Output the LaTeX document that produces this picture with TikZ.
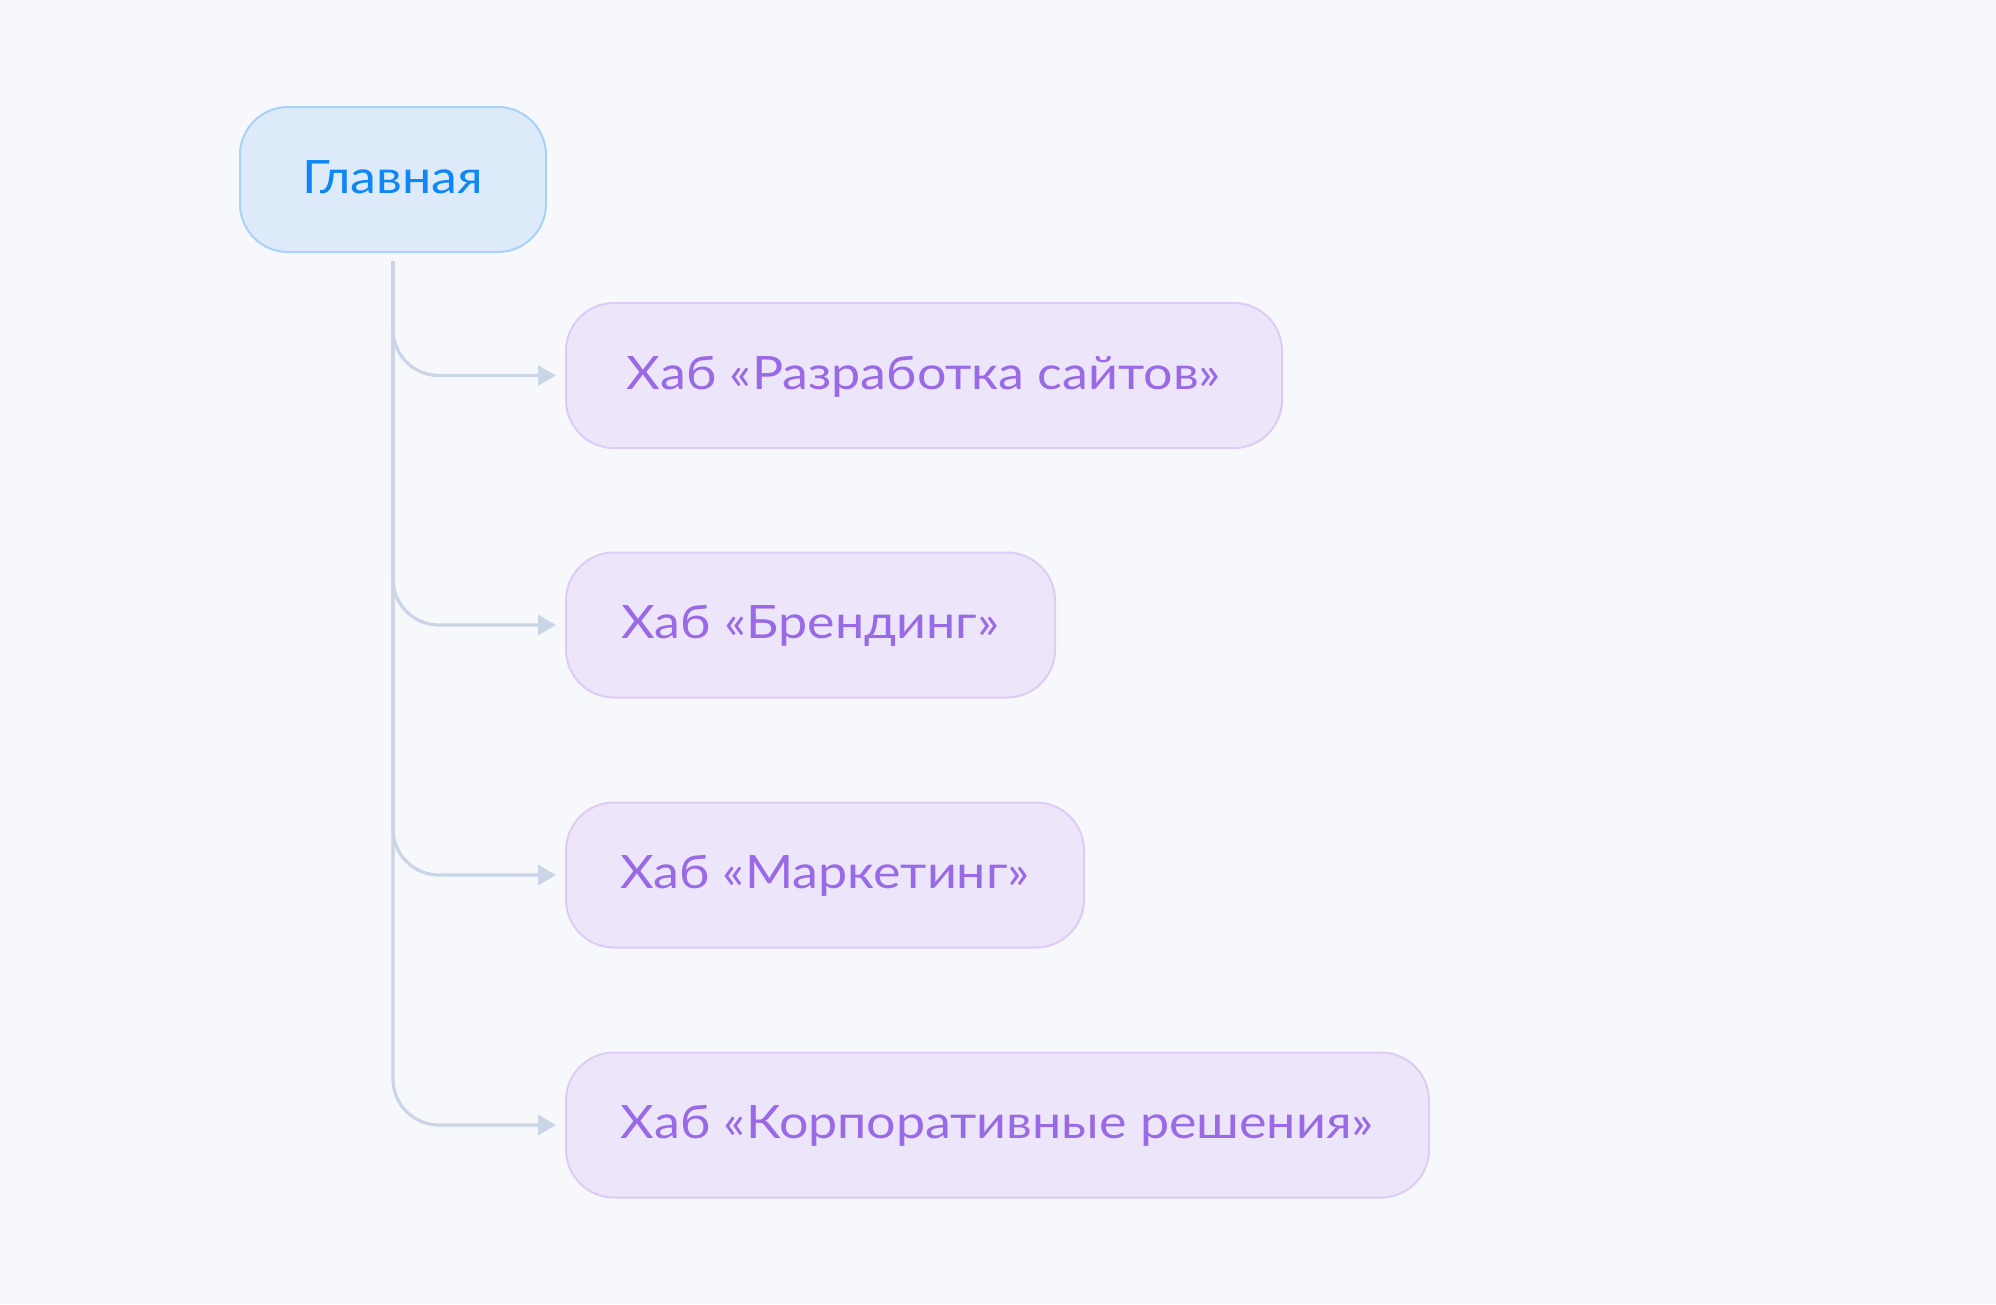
\documentclass[tikz,border=0pt]{standalone}
\usepackage{fontspec}
\setmainfont{Lato}[FakeStretch=1.13]
\usetikzlibrary{arrows.meta}
\definecolor{bg}{HTML}{F7F8FB}
\definecolor{mainfill}{HTML}{DCEAF9}
\definecolor{mainedge}{HTML}{A9D2F8}
\definecolor{maintext}{HTML}{0E87F5}
\definecolor{hubfill}{HTML}{EDE6FA}
\definecolor{hubedge}{HTML}{DDCCF5}
\definecolor{hubtext}{HTML}{9A6AE6}
\definecolor{conncol}{HTML}{CAD6E8}
\tikzset{
  box/.style={rectangle, rounded corners=48pt, line width=2pt, minimum height=145pt,
    inner sep=0pt, text height=27pt, text depth=0pt, font=\fontsize{46}{50}\selectfont},
  mainbox/.style={box, fill=mainfill, draw=mainedge, text=maintext, minimum width=306pt},
  hubbox/.style={box, fill=hubfill, draw=hubedge, text=hubtext, anchor=west},
  conn/.style={draw=conncol, line width=3.2pt, rounded corners=46pt,
    -{Triangle[length=18pt,width=20pt]}}
}
\begin{document}
\begin{tikzpicture}[x=1pt,y=-1pt]
\fill[bg] (0,0) rectangle (1996,1304);
\useasboundingbox (0,0) rectangle (1996,1304);
\node[mainbox] (main) at (393,179.5) {Главная};
\node[hubbox, minimum width=716pt] (h1) at (565,375.5) {Хаб «Разработка сайтов»};
\node[hubbox, minimum width=489pt] (h2) at (565,625) {Хаб «Брендинг»};
\node[hubbox, minimum width=518pt] (h3) at (565,875) {Хаб «Маркетинг»};
\node[hubbox, minimum width=863pt] (h4) at (565,1125) {Хаб «Корпоративные решения»};
\coordinate (start) at ([yshift=-8pt]main.south);
\foreach \h in {h1,h2,h3,h4}{
  \draw[conn] (start) |- ([xshift=-9pt]\h.west);
}
\end{tikzpicture}
\end{document}
